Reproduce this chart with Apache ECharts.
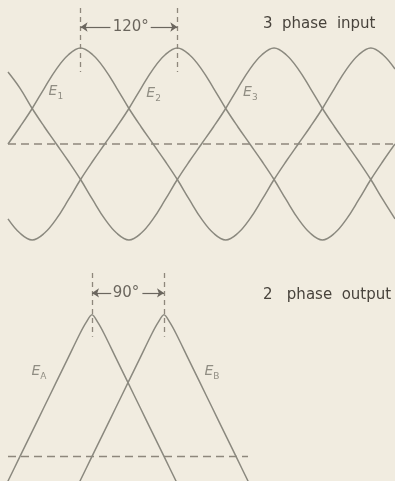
<!DOCTYPE html>
<html>
<head>
<meta charset="utf-8">
<style>
html,body{margin:0;padding:0;background:#f1ece0;}
#chart{width:395px;height:481px;}
</style>
<script src="https://cdn.jsdelivr.net/npm/echarts@6/dist/echarts.min.js"></script>
</head>
<body>
<div id="chart"></div>
<script>
// 3 phase input: phase angle (deg) and the three waves (peak = 1)
const inDeg = [0, 15, 30, 45, 60, 75, 90, 105, 120, 135, 150, 165, 180, 195, 210, 225, 240,
  255, 270, 285, 300, 315, 330, 345, 360, 375, 390, 405, 420, 435, 450, 465, 480];
const e1 = [0, 0.18, 0.37, 0.58, 0.78, 0.93, 1, 0.93, 0.78, 0.58, 0.37, 0.18, 0, -0.18, -0.37, -0.58, -0.78,
  -0.93, -1, -0.93, -0.78, -0.58, -0.37, -0.18, 0, 0.18, 0.37, 0.58, 0.78, 0.93, 1, 0.93, 0.78];
const e2 = [-0.78, -0.93, -1, -0.93, -0.78, -0.58, -0.37, -0.18, 0, 0.18, 0.37, 0.58, 0.78, 0.93, 1, 0.93, 0.78,
  0.58, 0.37, 0.18, 0, -0.18, -0.37, -0.58, -0.78, -0.93, -1, -0.93, -0.78, -0.58, -0.37, -0.18, 0];
const e3 = [0.75, 0.58, 0.37, 0.18, 0, -0.18, -0.37, -0.58, -0.78, -0.93, -1, -0.93, -0.78, -0.58, -0.37, -0.18, 0,
  0.18, 0.37, 0.58, 0.78, 0.93, 1, 0.93, 0.78, 0.58, 0.37, 0.18, 0, -0.18, -0.37, -0.58, -0.78];

// 2 phase output
const aDeg = [-30, -15, 0, 15, 30, 45, 60, 75, 82.5, 90, 97.5, 105, 120, 135, 150, 165, 180, 195, 210];
const eA = [-0.34, -0.17, 0, 0.17, 0.34, 0.51, 0.68, 0.85, 0.925, 0.98, 0.925, 0.85, 0.68, 0.51, 0.34, 0.17, 0, -0.17, -0.34];
const bDeg = [60, 75, 90, 105, 120, 135, 150, 165, 172.5, 180, 187.5, 195, 210, 225, 240, 255, 270, 285, 300];
const eB = [-0.34, -0.17, 0, 0.17, 0.34, 0.51, 0.68, 0.85, 0.925, 0.98, 0.925, 0.85, 0.68, 0.51, 0.34, 0.17, 0, -0.17, -0.34];

const inLabels = [['1', 59.4, 0.53], ['2', 180.6, 0.51], ['3', 300.6, 0.52]];
const outLabels = [['A', 23.75, 0.58], ['B', 240, 0.58]];

const curveColor = '#8b897f';
const dashColor = '#8e877c';
const textColor = '#48433c';
const labelColor = '#78766c';

const zip = (xs, ys) => xs.map((x, i) => [x, ys[i]]);

function curve(name, xi, data, smooth) {
  return {
    name, type: 'line', xAxisIndex: xi, yAxisIndex: xi,
    data, smooth, showSymbol: false, silent: true,
    lineStyle: { color: curveColor, width: 1.5 },
  };
}

const seg = (p, q, s0, s1) => [
  { coord: p, symbol: s0 || 'none' },
  { coord: q, symbol: s1 || 'none' },
];

function guides(xi, mid, verts, arrows) {
  const data = verts.map(v => {
    const d = seg(v[0], v[1]);
    d[0].lineStyle = { type: [5, 4] };
    return d;
  });
  arrows.forEach(a => {
    const d = seg(a[0], a[1], a[2], a[3]);
    d[0].lineStyle = { type: 'solid', color: '#6b665e', width: 1.2 };
    data.push(d);
  });
  return {
    type: 'line', xAxisIndex: xi, yAxisIndex: xi, data: mid,
    showSymbol: false, silent: true,
    lineStyle: { color: dashColor, width: 1.5, type: [8, 5] },
    markLine: {
      silent: true, symbolSize: 7, label: { show: false },
      lineStyle: { color: dashColor, width: 1.3 },
      data,
    },
  };
}

function labels(xi, list) {
  return {
    type: 'scatter', xAxisIndex: xi, yAxisIndex: xi, silent: true,
    symbolSize: 1, itemStyle: { color: 'rgba(0,0,0,0)' },
    data: list.map(l => ({ name: l[0], value: [l[1], l[2]] })),
    label: {
      show: true, position: 'inside',
      formatter: p => '{e|E}{s|' + p.name + '}',
      rich: {
        e: { fontFamily: 'DejaVu Sans', fontStyle: 'italic', fontSize: 14, lineHeight: 17, verticalAlign: 'top', color: labelColor },
        s: { fontFamily: 'DejaVu Sans', fontSize: 9, verticalAlign: 'bottom', color: labelColor },
      },
    },
  };
}

function angleText(xi, x, y, txt) {
  return {
    type: 'scatter', xAxisIndex: xi, yAxisIndex: xi, silent: true,
    symbolSize: 1, itemStyle: { color: 'rgba(0,0,0,0)' },
    data: [[x, y]],
    label: {
      show: true, position: 'inside', formatter: txt,
      fontFamily: 'DejaVu Sans', fontSize: 15, color: textColor,
    },
  };
}

const chart = echarts.init(document.getElementById('chart'));
chart.setOption({
  backgroundColor: '#f1ece0',
  animation: false,
  grid: [
    { left: 8, top: 0, width: 388, height: 244.8 },
    { left: 4, top: 249.65, width: 384, height: 232 },
  ],
  xAxis: [
    { gridIndex: 0, type: 'value', min: 0, max: 480, show: false },
    { gridIndex: 1, type: 'value', min: -20, max: 460, show: false },
  ],
  yAxis: [
    { gridIndex: 0, type: 'value', min: -1.05, max: 1.5, show: false },
    { gridIndex: 1, type: 'value', min: -0.17, max: 1.43, show: false },
  ],
  graphic: [
    { type: 'text', left: 263, top: 17, style: { text: '3  phase  input', fontFamily: 'DejaVu Sans', fontSize: 15, fill: textColor } },
    { type: 'text', left: 263, top: 288, style: { text: '2   phase  output', fontFamily: 'DejaVu Sans', fontSize: 15, fill: textColor } },
  ],
  series: [
    guides(0, [[0, 0], [480, 0]],
      [[[90, 1.417], [90, 0.75]], [[210, 1.417], [210, 0.75]]],
      [[[90, 1.219], [127, 1.219], 'arrow', 'none'], [[177, 1.219], [210, 1.219], 'none', 'arrow']]),
    curve('E1', 0, zip(inDeg, e1), 0.4),
    curve('E2', 0, zip(inDeg, e2), 0.4),
    curve('E3', 0, zip(inDeg, e3), 0.4),
    labels(0, inLabels),
    angleText(0, 152.2, 1.219, '120°'),
    guides(1, [[-15, 0], [285, 0]],
      [[[90, 1.269], [90, 0.828]], [[180, 1.269], [180, 0.828]]],
      [[[90, 1.131], [114, 1.131], 'arrow', 'none'], [[153, 1.131], [180, 1.131], 'none', 'arrow']]),
    curve('EA', 1, zip(aDeg, eA), 0.3),
    curve('EB', 1, zip(bDeg, eB), 0.3),
    labels(1, outLabels),
    angleText(1, 132.5, 1.131, '90°'),
  ],
});
</script>
</body>
</html>
